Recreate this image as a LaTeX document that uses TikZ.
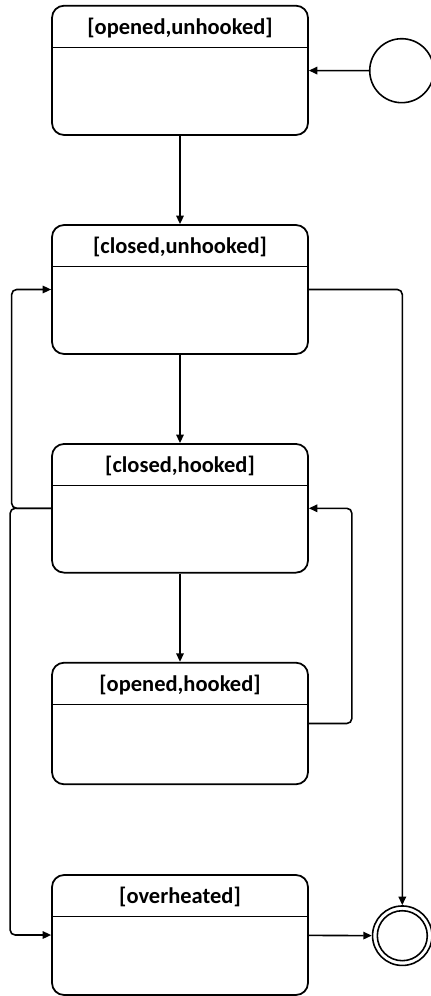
\documentclass[tikz,border=0pt]{standalone}
\usepackage{fontspec}
\setmainfont{Carlito}
\usetikzlibrary{arrows.meta}
\begin{document}
\begin{tikzpicture}[x=0.02cm, y=-0.02cm, >={Triangle[length=0.17cm,width=0.15cm]}]

    % Estilos de los estados
    \tikzset{
        state/.style={draw, line width=1pt, rounded corners=0.24cm,
            minimum width=5.12cm, inner sep=0pt},
        title/.style={font=\fontsize{12.8}{14}\selectfont\bfseries, inner sep=0pt},
        flow/.style={->, line width=0.9pt, rounded corners=0.1cm}
    }

    \useasboundingbox (0,0) rectangle (431,996);

    % 1. Estados (caja, separador y nombre)
    \foreach \nm/\yc/\hgt/\txt in {s1/70.35/2.586/{[opened,unhooked]},
                                   s2/289.5/2.58/{[closed,unhooked]},
                                   s3/508.3/2.574/{[closed,hooked]},
                                   s4/723.5/2.432/{[opened,hooked]},
                                   s5/935/2.4/{[overheated]}} {
        \node[state, minimum height=\hgt cm] (\nm) at (180,\yc) {};
        \draw[line width=0.9pt] ([yshift=-0.85cm]\nm.north west) -- ([yshift=-0.85cm]\nm.north east);
        \node[title] (\nm t) at ([yshift=-0.46cm]\nm.north) {\txt};
    }

    % 2. Estado inicial y final
    \node[circle, draw, line width=0.9pt, minimum size=1.28cm, inner sep=0pt] (init) at (401.7,70.7) {};
    \node[circle, draw, line width=0.9pt, minimum size=1.19cm, inner sep=0pt] (final) at (402.3,935.7) {};
    \draw[line width=0.9pt] (final.center) circle[radius=0.5cm];

    % 3. Transiciones
    \draw[flow] (init) -- (s1);
    \draw[flow] (s1) -- (s2);
    \draw[flow] (s2) -- (s3);
    \draw[flow] (s3) -- (s4);
    \draw[flow] (s3.west) -- ++(-39.5,0) |- (s2.west);
    \draw[flow] (s3.west) -- ++(-41,0) |- (s5.west);
    \draw[flow] (s4.east) -- ++(43,0) |- (s3.east);
    \draw[flow] (s2.east) -| (final.north);
    \draw[flow] (s5) -- (final);

\end{tikzpicture}
\end{document}
